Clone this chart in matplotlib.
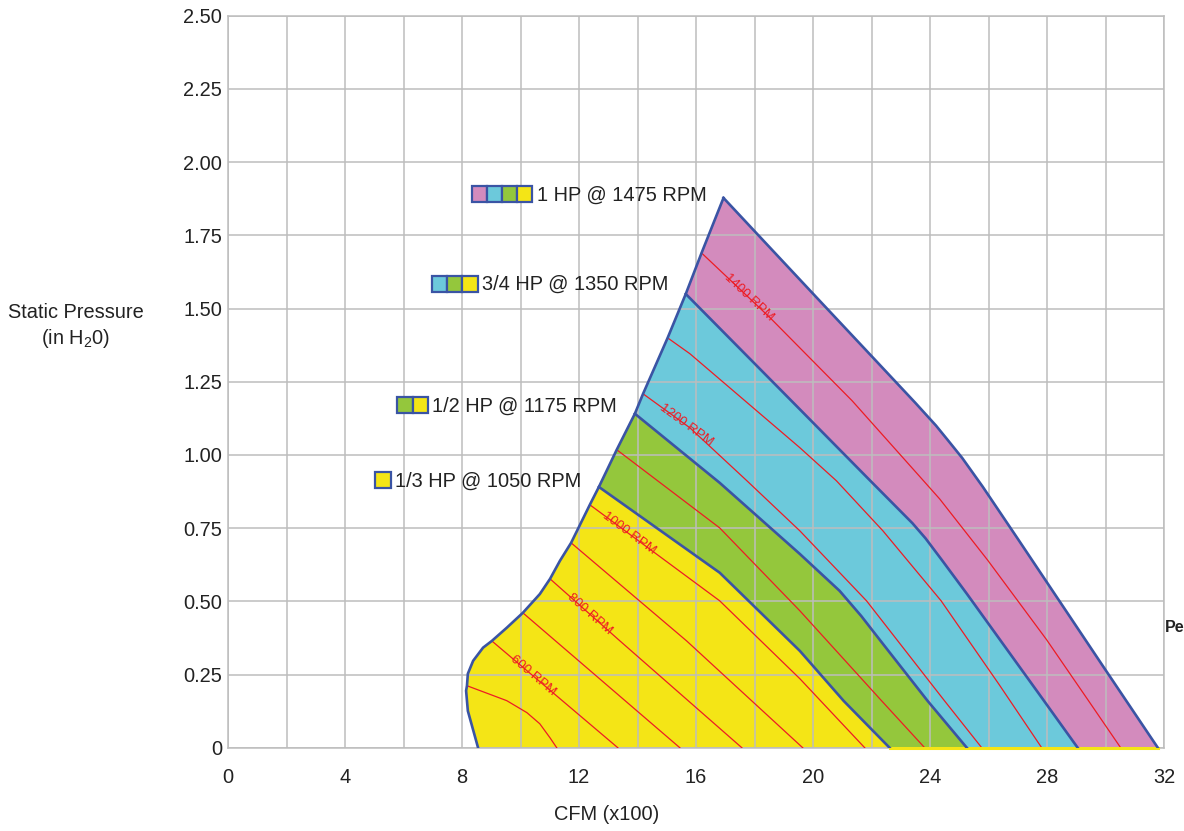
import numpy as np
import matplotlib
matplotlib.use("Agg")
import matplotlib.pyplot as plt
from matplotlib.patches import Polygon, Rectangle

plt.rcParams['font.family'] = ['Liberation Sans', 'DejaVu Sans']
plt.rcParams['mathtext.fontset'] = 'custom'
plt.rcParams['mathtext.rm'] = 'Liberation Sans'
plt.rcParams['mathtext.default'] = 'regular'

# ---------------- data (CFM x100, static pressure in H2O) ----------------
# surge (left) boundary, bottom -> peak
surge_x = [8.55, 8.20, 8.14, 8.17, 8.20, 8.38, 8.72, 9.02, 9.53, 10.08, 10.66, 11.01,
           11.35, 11.73, 12.37, 12.68, 13.29, 13.91, 14.19, 15.03, 15.65, 16.19, 16.94]
surge_y = [0.0, 0.126, 0.195, 0.212, 0.253, 0.297, 0.342, 0.365, 0.41, 0.461, 0.525, 0.577,
           0.639, 0.70, 0.83, 0.891, 1.018, 1.141, 1.209, 1.40, 1.55, 1.69, 1.878]

# 1 HP limit (outer boundary), peak -> bottom
hp1_x = [16.94, 20.00, 22.00, 23.50, 24.20, 24.60, 25.10, 25.80, 27.00, 28.50, 30.00, 31.79]
hp1_y = [1.878, 1.551, 1.338, 1.178, 1.101, 1.052, 0.990, 0.892, 0.714, 0.490, 0.266, 0.0]

# 3/4 HP limit
hp34_x = [15.65, 19.55, 21.94, 23.40, 23.85, 24.40, 25.26, 27.85, 29.05]
hp34_y = [1.55, 1.156, 0.914, 0.767, 0.715, 0.642, 0.526, 0.167, 0.0]

# 1/2 HP limit
hp12_x = [13.91, 16.81, 19.55, 20.91, 21.65, 22.39, 23.92, 25.26]
hp12_y = [1.141, 0.905, 0.662, 0.536, 0.450, 0.355, 0.16, 0.0]

# 1/3 HP limit
hp13_x = [12.68, 16.81, 19.55, 21.05, 22.62]
hp13_y = [0.891, 0.598, 0.331, 0.16, 0.0]

# constant-RPM lines
rpm_values = [500, 600, 700, 800, 900, 1000, 1100, 1200, 1300, 1400]
rpm_x = [
    [8.17, 9.53, 10.22, 10.66, 11.01, 11.24],
    [9.02, 13.33],
    [10.08, 15.45],
    [11.01, 13.40, 17.57],
    [11.73, 15.68, 19.65],
    [12.37, 16.81, 19.55, 21.77],
    [13.29, 16.81, 19.55, 22.35, 23.82],
    [14.19, 15.79, 17.74, 19.55, 21.83, 24.50, 25.77],
    [15.03, 15.79, 19.55, 20.80, 22.39, 24.38, 26.37, 27.82],
    [16.19, 18.52, 21.34, 23.68, 24.33, 25.97, 27.98, 29.39, 30.52],
]
rpm_y = [
    [0.212, 0.161, 0.12, 0.082, 0.034, 0.0],
    [0.365, 0.0],
    [0.461, 0.0],
    [0.577, 0.365, 0.0],
    [0.70, 0.365, 0.0],
    [0.83, 0.502, 0.236, 0.0],
    [1.018, 0.751, 0.468, 0.16, 0.0],
    [1.209, 1.093, 0.912, 0.741, 0.502, 0.16, 0.0],
    [1.40, 1.346, 1.025, 0.912, 0.741, 0.502, 0.215, 0.0],
    [1.69, 1.47, 1.185, 0.923, 0.85, 0.641, 0.37, 0.165, 0.0],
]
rpm_label_values = [600, 800, 1000, 1200, 1400]
rpm_label_x = [10.43, 12.37, 13.71, 15.68, 17.80]

legend_labels = ["1 HP @ 1475 RPM", "3/4 HP @ 1350 RPM", "1/2 HP @ 1175 RPM", "1/3 HP @ 1050 RPM"]
legend_y = [1.892, 1.585, 1.170, 0.913]
legend_xr = [10.41, 8.53, 6.83, 5.56]

y_ticks = [0, 0.25, 0.5, 0.75, 1.0, 1.25, 1.5, 1.75, 2.0, 2.25, 2.5]
y_tick_labels = ["0", "0.25", "0.50", "0.75", "1.00", "1.25", "1.50", "1.75", "2.00", "2.25", "2.50"]
x_ticks = [0, 4, 8, 12, 16, 20, 24, 28, 32]

# ---------------- styling ----------------
C_YEL = "#F4E516"
C_GRN = "#94C73C"
C_CYN = "#6CC9DB"
C_PNK = "#D38BBD"
C_BLU = "#3A54A4"
C_RED = "#ED1C24"
C_GRID = "#BDBDBD"
band_colors = [C_PNK, C_CYN, C_GRN, C_YEL]

W, H = 1184, 831
fig = plt.figure(figsize=(W / 100, H / 100), dpi=100)
L, R, T, B = 228, 1164, 15.8, 747.8
ax = fig.add_axes([L / W, 1 - B / H, (R - L) / W, (B - T) / H])
ax.set_xlim(0, 32)
ax.set_ylim(0, 2.5)

sx = np.array(surge_x)
sy = np.array(surge_y)


def band_polygon(bx, by):
    # surge points below the junction, then the band's upper limit curve
    mask = sy < by[0]
    px = np.concatenate([sx[mask], bx])
    py = np.concatenate([sy[mask], by])
    return np.column_stack([px, py])


limits = [(hp1_x, hp1_y), (hp34_x, hp34_y), (hp12_x, hp12_y), (hp13_x, hp13_y)]
for (bx, by), col in zip(limits, band_colors):
    ax.add_patch(Polygon(band_polygon(np.array(bx), np.array(by)), closed=True,
                         facecolor=col, edgecolor='none', zorder=1))

# yellow strip along the bottom under the upper bands
ax.plot([hp13_x[-1], hp1_x[-1]], [0, 0], color=C_YEL, lw=2.2, zorder=3.5, clip_on=False)

# grid
ax.set_xticks(x_ticks)
ax.set_xticks(np.arange(0, 33, 2), minor=True)
ax.set_yticks(y_ticks)
ax.set_yticklabels(y_tick_labels)
ax.grid(True, which='both', color=C_GRID, lw=1.1)
ax.tick_params(which='both', length=0, labelsize=14.4, colors='#222222')
ax.tick_params(axis='x', pad=14.5)
ax.tick_params(axis='y', pad=4.3)
for s in ax.spines.values():
    s.set_color(C_GRID)
    s.set_linewidth(1.1)

# RPM lines
for xs, ys in zip(rpm_x, rpm_y):
    ax.plot(xs, ys, color=C_RED, lw=0.9, zorder=3, solid_joinstyle='round')

# RPM labels along lines
fig.canvas.draw()
for val, lx in zip(rpm_label_values, rpm_label_x):
    i = rpm_values.index(val)
    xs = np.array(rpm_x[i]); ys = np.array(rpm_y[i])
    ly = np.interp(lx, xs, ys)
    k = max(1, min(len(xs) - 1, np.searchsorted(xs, lx)))
    p0 = ax.transData.transform((xs[k - 1], ys[k - 1]))
    p1 = ax.transData.transform((xs[k], ys[k]))
    ang = np.degrees(np.arctan2(p1[1] - p0[1], p1[0] - p0[0]))
    ax.text(lx, ly, f"{val} RPM", color=C_RED, fontsize=9.5, rotation=ang,
            rotation_mode='anchor', ha='center', va='center', zorder=5)

# power limit boundaries (blue)
ax.plot(surge_x, surge_y, color=C_BLU, lw=1.9, zorder=4, solid_joinstyle='round')
for bx, by in limits:
    ax.plot(bx, by, color=C_BLU, lw=1.9, zorder=4, solid_joinstyle='round')

# legend boxes
sq_w = 15.2 / 29.26
sq_h = 16.0 / 292.8
for i, (lab, yc, xr) in enumerate(zip(legend_labels, legend_y, legend_xr)):
    cols = band_colors[i:]
    n = len(cols)
    for j, c in enumerate(cols):
        x0 = xr - (n - j) * sq_w
        ax.add_patch(Rectangle((x0, yc - sq_h / 2), sq_w, sq_h, facecolor=c,
                               edgecolor=C_BLU, lw=1.6, zorder=6))
    ax.text(xr + 0.15, yc - 0.022, lab, fontsize=14.4, color='#222222',
            ha='left', va='baseline', zorder=6)

# axis titles
fig.text(75.7 / W, 1 - 312.6 / H, "Static Pressure", fontsize=14.4, color='#222222',
         ha='center', va='center')
fig.text(75.7 / W, 1 - 339 / H, "(in H$_2$0)", fontsize=14.4, color='#222222',
         ha='center', va='center')
fig.text(607 / W, 1 - 815 / H, "CFM (x100)", fontsize=14.4, color='#222222',
         ha='center', va='center')
fig.text(1165 / W, 1 - 628 / H, "Pe", fontsize=11.5, fontweight='bold',
         color='#222222', ha='left', va='center')

fig.savefig("out.png", dpi=100)
